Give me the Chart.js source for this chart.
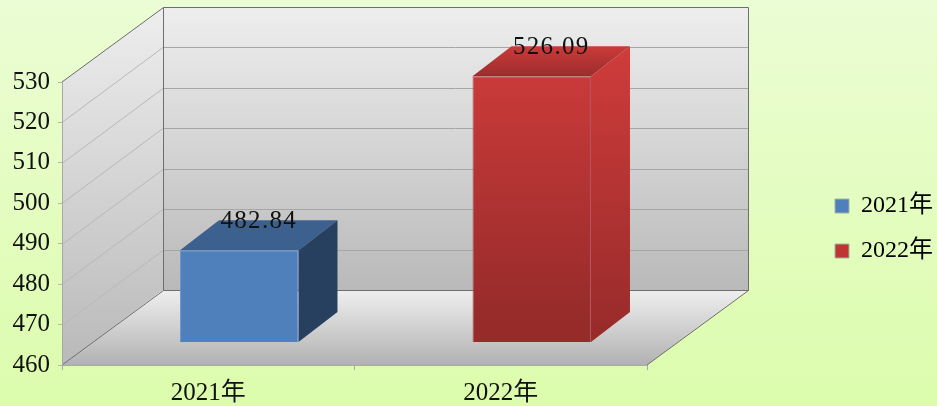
<!DOCTYPE html>
<html>
<head>
<meta charset="utf-8">
<title>chart</title>
<script src="https://cdn.jsdelivr.net/npm/chart.js@4"></script>
<style>
	html, body { margin: 0; padding: 0; background: #e4fcc0; }
	canvas { display: block; }
</style>
</head>
<body>
<canvas id="barChart" width="937" height="406"></canvas>
<script>
const categories = ['2021年', '2022年'];
const values = [482.84, 526.09];
const yTicks = [460, 470, 480, 490, 500, 510, 520, 530];

const fontName = "'Liberation Serif', 'Noto Sans CJK SC', serif";
const wallDepth = { x: 101, y: -75 };
const barShift = { x: 31, y: -23 };
const barDepth = { x: 39, y: -30 };

function poly(ctx, pts, fill, stroke) {
	ctx.beginPath();
	pts.forEach(function (p, i) {
		if (i == 0) ctx.moveTo(p[0], p[1]);
		else ctx.lineTo(p[0], p[1]);
	});
	ctx.closePath();
	if (fill) {
		ctx.fillStyle = fill;
		ctx.fill();
	}
	if (stroke) {
		ctx.strokeStyle = stroke;
		ctx.lineWidth = 1;
		ctx.stroke();
	}
}

function line(ctx, x1, y1, x2, y2, color) {
	ctx.beginPath();
	ctx.moveTo(x1, y1);
	ctx.lineTo(x2, y2);
	ctx.strokeStyle = color;
	ctx.lineWidth = 1;
	ctx.stroke();
}

function vGrad(ctx, y1, y2, c1, c2) {
	let g = ctx.createLinearGradient(0, y1, 0, y2);
	g.addColorStop(0, c1);
	g.addColorStop(1, c2);
	return g;
}

// page background, walls and floor of the 3d box
const walls = {
	id: 'walls',
	beforeDraw: function (chart) {
		let ctx = chart.ctx;
		let a = chart.chartArea;
		let y = chart.scales.y;
		let dx = wallDepth.x, dy = wallDepth.y;

		ctx.save();
		ctx.fillStyle = vGrad(ctx, 0, chart.height, '#ebfdd4', '#dcfcac');
		ctx.fillRect(0, 0, chart.width, chart.height);

		// back wall
		poly(ctx, [[a.left + dx, a.top + dy], [a.right + dx, a.top + dy], [a.right + dx, a.bottom + dy], [a.left + dx, a.bottom + dy]],
			vGrad(ctx, a.top + dy, a.bottom + dy, '#eeeeee', '#b9b9b9'));
		// left wall
		poly(ctx, [[a.left, a.top], [a.left + dx, a.top + dy], [a.left + dx, a.bottom + dy], [a.left, a.bottom]],
			vGrad(ctx, a.top + dy, a.bottom, '#eeeeee', '#b9b9b9'));
		// floor
		poly(ctx, [[a.left, a.bottom], [a.left + dx, a.bottom + dy], [a.right + dx, a.bottom + dy], [a.right, a.bottom]],
			vGrad(ctx, a.bottom + dy, a.bottom, '#efefef', '#b2b2b2'));

		yTicks.forEach(function (v) {
			let py = Math.round(y.getPixelForValue(v)) + 0.5;
			if (v > yTicks[0] && v < yTicks[yTicks.length - 1]) {
				line(ctx, a.left, py, a.left + dx, py + dy, '#b8b8b8');
				line(ctx, a.left + dx, py + dy, a.right + dx, py + dy, '#a6a6a6');
			}
		});

		// box edges
		let edge = '#6e6e6e';
		let bx = Math.round(a.left + dx) + 0.5, rx = Math.round(a.right + dx) + 0.5;
		let ty = Math.round(a.top + dy) + 0.5, by = Math.round(a.bottom + dy) + 0.5;
		line(ctx, a.left, a.top, bx, ty, edge);
		line(ctx, bx, ty, rx, ty, edge);
		line(ctx, bx, ty, bx, by, edge);
		line(ctx, rx, ty, rx, by, edge);
		line(ctx, bx, by, rx, by, edge);
		line(ctx, a.left, a.bottom, bx, by, edge);
		line(ctx, a.right, a.bottom, rx, by, edge);
		ctx.restore();
	},
	afterLayout: function (chart) {
		// nudge the legend to where the original has it
		chart.legend.top += 5;
		chart.legend.bottom += 5;
		chart.legend.left += 6;
		chart.legend.right += 6;
	}
};

// the library draws the front of each bar, this adds top and side and moves bars into the box
const bars3d = {
	id: 'bars3d',
	beforeDatasetsDraw: function (chart) {
		let ctx = chart.ctx;
		let dx = barDepth.x, dy = barDepth.y;
		ctx.save();
		ctx.translate(barShift.x, barShift.y);
		chart.getDatasetMeta(0).data.forEach(function (bar, i) {
			let l = bar.x - bar.width / 2, r = bar.x + bar.width / 2;
			let side, top;
			if (i == 0) {
				side = '#274060';
				top = '#3c618f';
			} else {
				side = vGrad(ctx, bar.y + dy, bar.base, '#cf3c3b', '#962b2a');
				top = vGrad(ctx, bar.y + dy, bar.y, '#cb3a39', '#9c2d2d');
			}
			poly(ctx, [[l, bar.y], [l + dx, bar.y + dy], [r + dx, bar.y + dy], [r, bar.y]], top);
			poly(ctx, [[r, bar.y], [r + dx, bar.y + dy], [r + dx, bar.base + dy], [r, bar.base]], side);
		});
	},
	afterDatasetsDraw: function (chart) {
		let ctx = chart.ctx;
		ctx.font = '25px ' + fontName;
		ctx.letterSpacing = '1.3px';
		ctx.fillStyle = '#111111';
		ctx.textAlign = 'center';
		ctx.textBaseline = 'middle';
		chart.getDatasetMeta(0).data.forEach(function (bar, i) {
			ctx.fillText(values[i].toFixed(2), bar.x + barDepth.x / 2, bar.y + barDepth.y + 1);
		});
		ctx.restore();
	}
};

let chart = document.getElementById('barChart').getContext('2d');
new Chart(chart, {
	type: 'bar',
	data: {
		labels: categories,
		datasets: [{
			data: values,
			yAxisID: 'yBar',
			base: yTicks[0],
			clip: false,
			barPercentage: 0.405,
			categoryPercentage: 1,
			borderWidth: 1,
			borderColor: ['#6b97cc', '#b5505c'],
			backgroundColor: function (c) {
				if (c.dataIndex == 0) return '#4f80bc';
				let a = c.chart.chartArea;
				if (!a) return '#c0393b';
				return vGrad(c.chart.ctx, 70, a.bottom - 23, '#cf3c3b', '#962b2a');
			}
		}]
	},
	plugins: [walls, bars3d],
	options: {
		responsive: false,
		animation: false,
		layout: { padding: { top: 82, right: 0, bottom: 0, left: 0 } },
		plugins: {
			title: { display: false },
			tooltip: { enabled: false },
			legend: {
				position: 'right',
				fullSize: false,
				labels: {
					boxWidth: 14,
					boxHeight: 14,
					padding: 21,
					color: '#111111',
					font: { family: fontName, size: 24 },
					generateLabels: function () {
						let colors = ['#4f80bc', '#bf3534'];
						return categories.map(function (name, i) {
							return { text: name, fillStyle: colors[i], strokeStyle: '#9db6a0', lineWidth: 1, index: i };
						});
					}
				}
			}
		},
		scales: {
			x: {
				grid: { drawOnChartArea: false, tickLength: 5, color: '#a8a8a8' },
				border: { color: '#a8a8a8' },
				ticks: { color: '#111111', font: { family: fontName, size: 25 }, padding: 8, maxRotation: 0 },
				afterFit: function (s) { s.height = 41; }
			},
			y: {
				min: 460,
				max: 530,
				afterBuildTicks: function (s) {
					s.ticks = yTicks.map(function (v) { return { value: v }; });
				},
				grid: { drawOnChartArea: false, tickLength: 4, color: '#b4b4b4' },
				border: { color: '#a8a8a8' },
				ticks: { color: '#111111', font: { family: fontName, size: 25 }, padding: 8 },
				afterFit: function (s) { s.width = 62; }
			},
			yBar: {
				position: 'right',
				min: 460,
				max: 530.4,
				grid: { display: false },
				border: { display: false },
				ticks: { display: false },
				afterFit: function (s) { s.width = 161; }
			}
		}
	}
});
</script>
</body>
</html>
